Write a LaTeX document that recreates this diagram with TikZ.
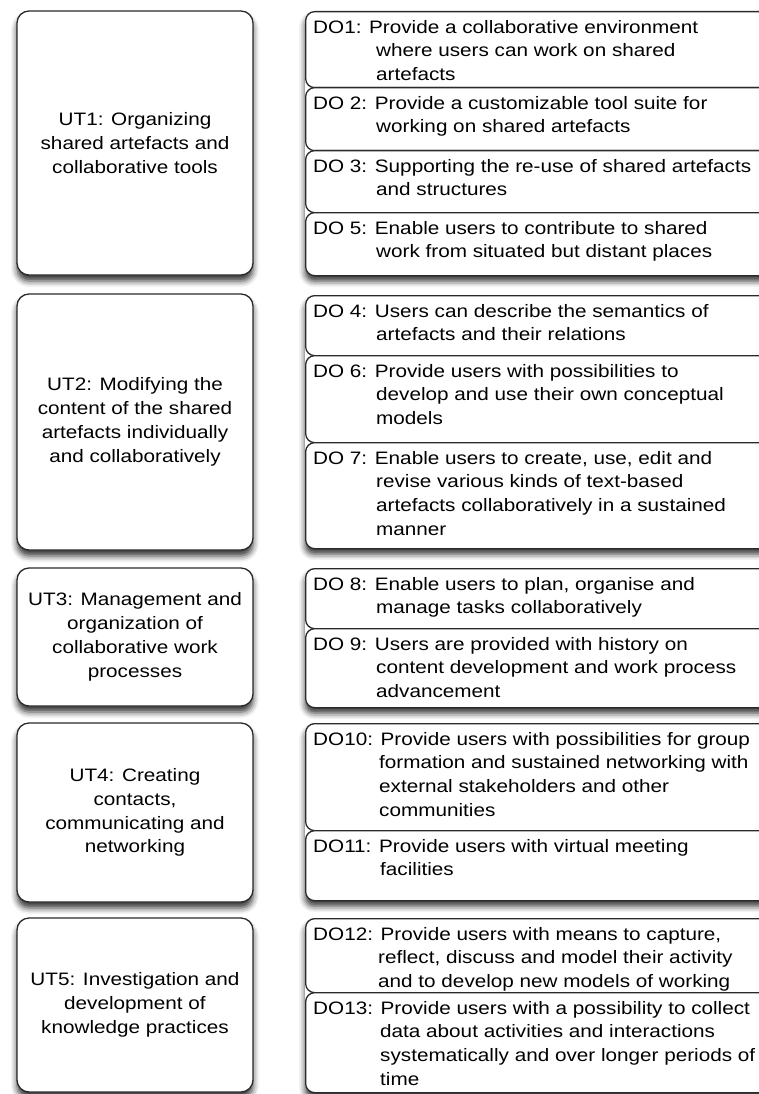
\documentclass[tikz,border=0pt]{standalone}
\usepackage{fontspec}
\setmainfont{Liberation Sans}[FakeStretch=1.15]
\usetikzlibrary{shadows.blur}
\definecolor{boxline}{HTML}{2A2A2A}
\newlength\doindent
\newcommand\cont{\\\hspace*{\doindent}}
% one requirement box: name, top, bottom, hanging indent, text
\newcommand\dobox[5]{%
  \setlength\doindent{#4}%
  \node[reqbox, minimum height={#3-#2}, anchor=north west] (#1box) at (305,#2) {};
  \node[reqtext, anchor=north west] (#1) at ([xshift=8pt,yshift=-9pt]#1box.north west) {#5};
}
% shadow under a stacked group of requirement boxes
\newcommand\doshadow[3]{%
  \node[groupshadow, minimum height={#3-#2}, anchor=north west] (#1) at (305,#2) {};
}
\begin{document}
\begin{tikzpicture}[x=1pt,y=-1pt,
  topic/.style={draw=boxline, line width=1.3pt, fill=white, rounded corners=12pt,
    minimum width=236pt, inner sep=0pt, align=center,
    font=\fontsize{18}{23.8}\selectfont,
    blur shadow={shadow xshift=0pt, shadow yshift=-6pt, shadow blur radius=6pt, shadow opacity=80}},
  reqbox/.style={draw=boxline, line width=1.3pt, fill=white, rounded corners=9pt,
    minimum width=470pt, inner sep=0pt},
  groupshadow/.style={fill=white, rounded corners=9pt, minimum width=470pt, inner sep=0pt,
    blur shadow={shadow xshift=0pt, shadow yshift=-6pt, shadow blur radius=6pt, shadow opacity=80}},
  reqtext/.style={inner sep=0pt, align=left, font=\fontsize{18}{23.6}\selectfont},
]
\useasboundingbox (0,0) rectangle (759,1094);
\clip (0,0) rectangle (759,1094);

% user tasks
\node[topic, minimum height=264pt] (ut1) at (135,143) {UT1: Organizing\\shared artefacts and\\collaborative tools};
\node[topic, minimum height=256pt] (ut2) at (135,422) {UT2: Modifying the\\content of the shared\\artefacts individually\\and collaboratively};
\node[topic, minimum height=138pt] (ut3) at (135,637) {UT3: Management and\\organization of\\collaborative work\\processes};
\node[topic, minimum height=179pt] (ut4) at (135,812.5) {UT4: Creating\\contacts,\\communicating and\\networking};
\node[topic, minimum height=174pt] (ut5) at (135,1005) {UT5: Investigation and\\development of\\knowledge practices};

% design objectives, group 1
\doshadow{g1}{11}{275}
\dobox{do1}{11}{87}{63pt}{DO1: Provide a collaborative environment\cont where users can work on shared\cont artefacts}
\dobox{do2}{87}{150}{63pt}{DO 2: Provide a customizable tool suite for\cont working on shared artefacts}
\dobox{do3}{150}{212}{63pt}{DO 3: Supporting the re-use of shared artefacts\cont and structures}
\dobox{do5}{212}{275}{63pt}{DO 5: Enable users to contribute to shared\cont work from situated but distant places}

% group 2
\doshadow{g2}{295}{548}
\dobox{do4}{295}{355}{63pt}{DO 4: Users can describe the semantics of\cont artefacts and their relations}
\dobox{do6}{355}{442}{63pt}{DO 6: Provide users with possibilities to\cont develop and use their own conceptual\cont models}
\dobox{do7}{442}{548}{63pt}{DO 7: Enable users to create, use, edit and\cont revise various kinds of text-based\cont artefacts collaboratively in a sustained\cont manner}

% group 3
\doshadow{g3}{568}{707}
\dobox{do8}{568}{628}{63pt}{DO 8: Enable users to plan, organise and\cont manage tasks collaboratively}
\dobox{do9}{628}{707}{63pt}{DO 9: Users are provided with history on\cont content development and work process\cont advancement}

% group 4
\doshadow{g4}{723}{900}
\dobox{do10}{723}{830}{66pt}{DO10: Provide users with possibilities for group\cont formation and sustained networking with\cont external stakeholders and other\cont communities}
\dobox{do11}{830}{900}{67pt}{DO11: Provide users with virtual meeting\cont facilities}

% group 5
\doshadow{g5}{918}{1092}
\dobox{do12}{918}{992}{65pt}{DO12: Provide users with means to capture,\cont reflect, discuss and model their activity\cont and to develop new models of working}
\dobox{do13}{992}{1092}{67pt}{DO13: Provide users with a possibility to collect\cont data about activities and interactions\cont systematically and over longer periods of\cont time}
\end{tikzpicture}
\end{document}
